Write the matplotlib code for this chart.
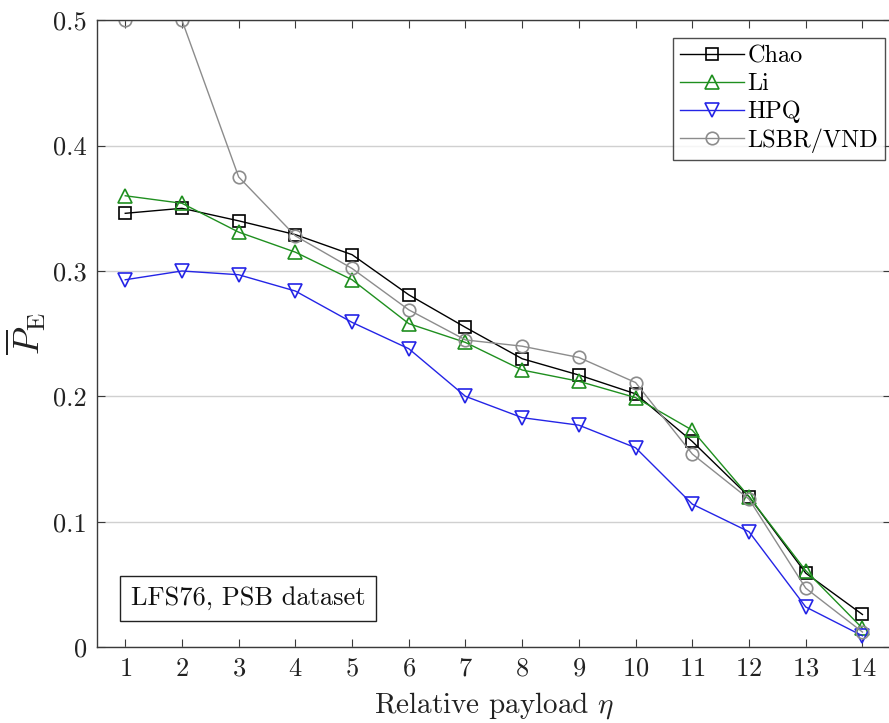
"""Average detection error P_E versus relative payload, LFS76 / PSB dataset."""

import matplotlib
matplotlib.use("Agg")
import matplotlib.pyplot as plt

payload = list(range(1, 15))

chao = [0.346, 0.350, 0.340, 0.329, 0.313, 0.281, 0.255, 0.230, 0.217, 0.202,
        0.164, 0.120, 0.059, 0.026]
li = [0.360, 0.354, 0.331, 0.315, 0.293, 0.258, 0.243, 0.221, 0.212, 0.199,
      0.173, 0.120, 0.061, 0.015]
hpq = [0.293, 0.300, 0.297, 0.284, 0.259, 0.238, 0.200, 0.183, 0.177, 0.159,
       0.114, 0.092, 0.032, 0.009]
lsbr = [0.500, 0.500, 0.375, 0.328, 0.302, 0.269, 0.245, 0.240, 0.231, 0.211,
        0.154, 0.118, 0.047, 0.012]

plt.rcParams["font.family"] = "serif"
plt.rcParams["font.serif"] = ["cmr10", "DejaVu Serif"]
plt.rcParams["mathtext.fontset"] = "cm"
plt.rcParams["axes.formatter.use_mathtext"] = True

fig = plt.figure(figsize=(8.89, 7.23), dpi=100)
ax = fig.add_axes([0.109, 0.105, 0.893, 0.867])

axis_col = "#3a3a3a"
ax.plot(payload, chao, color="black", lw=1.0, marker="s", ms=8,
        mfc="none", mew=1.2, label="Chao")
ax.plot(payload, li, color="#1f8f1f", lw=1.0, marker="^", ms=10,
        mfc="none", mew=1.2, label="Li")
ax.plot(payload, hpq, color="#2424e6", lw=1.0, marker="v", ms=10,
        mfc="none", mew=1.2, label="HPQ")
ax.plot(payload, lsbr, color="#8c8c8c", lw=1.0, marker="o", ms=9,
        mfc="none", mew=1.2, label="LSBR/VND")

ax.set_xlim(0.5, 14.5)
ax.set_ylim(0, 0.5)
ax.set_xticks(payload)
ax.set_yticks([0, 0.1, 0.2, 0.3, 0.4, 0.5])
ax.set_yticklabels(["0", "0.1", "0.2", "0.3", "0.4", "0.5"])
ax.yaxis.grid(True, color="#d0d0d0", lw=1.0)
ax.set_axisbelow(True)

ax.tick_params(direction="in", top=True, right=True, length=6,
               labelsize=19, colors=axis_col, labelcolor="#222222")
ax.tick_params(axis="x", pad=7)
ax.tick_params(axis="y", pad=7)
for sp in ax.spines.values():
    sp.set_color(axis_col)
    sp.set_linewidth(1.0)

ax.set_xlabel(r"Relative payload $\eta$", fontsize=21, color="#222222",
              labelpad=7)
ax.set_ylabel(r"$\overline{P}_{\mathrm{E}}$", fontsize=26, color="#222222",
              labelpad=4)

leg = ax.legend(loc="upper right", bbox_to_anchor=(0.993, 0.971),
                fontsize=17.5, frameon=True, fancybox=False, handlelength=2.6,
                handletextpad=0.15, borderpad=0.3, labelspacing=0.22,
                borderaxespad=0.0)
leg.get_frame().set_edgecolor("#222222")
leg.get_frame().set_linewidth(1.0)

ax.text(0.043, 0.078, "LFS76, PSB dataset", transform=ax.transAxes,
        fontsize=19, color="#111111", va="center", ha="left",
        bbox=dict(boxstyle="square,pad=0.4", fc="white", ec="#222222", lw=1.0))

fig.savefig("out.png", dpi=100)
